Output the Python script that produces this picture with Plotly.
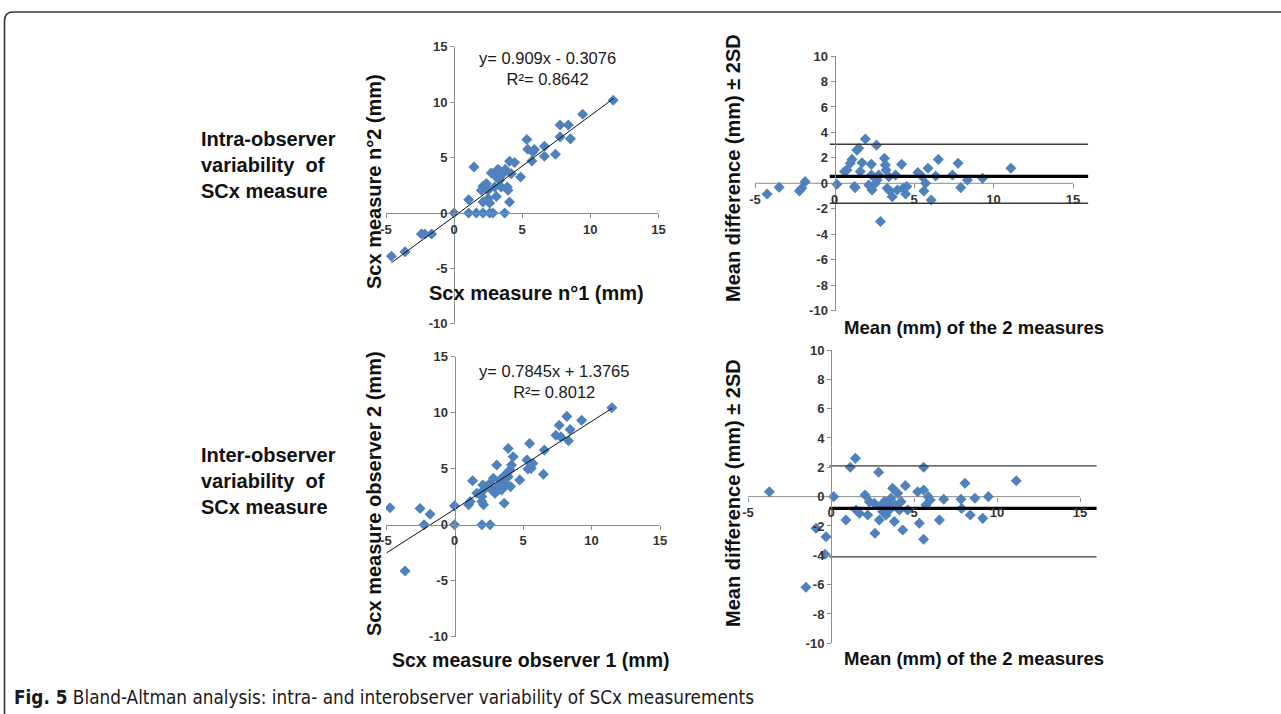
import plotly.graph_objects as go

W, H = 1281, 714

# ---------------- data ----------------
# Panel A: intra-observer, measure n°1 vs measure n°2 (mm)
intra_m1 = [-4.6, -3.6, -2.4, -2.15, -1.65, 0.0, 1.07, 1.07, 1.46, 1.63, 2.12, 2.12, 2.12, 2.49,
            2.61, 2.61, 2.85, 2.98, 3.1, 3.1, 3.22, 3.34, 3.71, 3.76, 3.9, 3.95, 4.07, 4.07, 4.2,
            4.44, 4.88, 5.34, 5.41, 5.71, 5.78, 5.9, 6.63, 6.63, 7.44, 7.78, 7.78, 8.39, 8.54,
            9.44, 11.68, 2.37, 2.73, 3.46, 3.59, 2.0, 2.5]
intra_m2 = [-3.9, -3.5, -1.9, -1.9, -1.9, 0.0, 1.2, 0.0, 4.16, 0.0, 0.0, 2.41, 1.0, 2.05,
            0.0, 0.9, 0.0, 2.35, 3.25, 1.5, 3.95, 2.95, 0.0, 3.95, 2.35, 2.05, 4.67, 1.0, 3.55,
            4.55, 3.25, 6.63, 5.75, 4.7, 5.51, 5.72, 6.02, 5.12, 5.3, 7.95, 6.87, 7.95, 6.69,
            8.92, 10.18, 2.65, 3.61, 2.35, 3.55, 2.05, 1.3]
intra_fit_slope, intra_fit_intercept = 0.909, -0.3076
intra_fit_x = [-4.6, 11.7]
intra_eq = "y= 0.909x - 0.3076<br>R²= 0.8642"

# Panel B: Bland-Altman intra-observer
ba_intra_mean = [-4.24, -3.48, -2.21, -2.06, -1.85, 0.15, 0.63, 0.78, 0.99, 1.1, 1.26, 1.3, 1.41,
                 1.52, 1.73, 1.62, 1.94, 2.15, 2.32, 2.32, 2.36, 2.57, 2.64, 2.68, 2.78, 2.89,
                 3.14, 3.2, 3.24, 3.31, 3.42, 3.48, 3.63, 3.84, 3.95, 4.22, 4.32, 4.47, 4.54,
                 5.24, 5.52, 5.62, 5.73, 5.88, 6.08, 6.36, 6.53, 7.42, 7.77, 7.94, 8.36, 9.31, 11.09]
ba_intra_diff = [-0.84, -0.31, -0.6, -0.39, 0.13, -0.08, 0.92, 1.05, 1.57, 1.88, -0.26, -0.34, 2.61,
                 2.75, 1.62, 0.92, 3.48, -0.13, 1.49, 0.65, -0.52, 0.0, 3.0, 0.26, 0.65, -3.0,
                 1.96, 1.44, 1.05, -0.39, 0.52, -0.6, -1.05, 0.65, -0.52, 1.49, -0.39, -0.84, -0.26,
                 0.84, 0.52, -0.6, 0.0, 1.18, -1.31, 0.58, 1.88, 0.65, 1.57, -0.34, 0.26, 0.39, 1.18]
ba_intra_limits = [3.07, 0.55, -1.57]   # upper, mean, lower
ba_intra_limit_x = [-0.3, 15.95]

# Panel C: inter-observer, observer 1 vs observer 2 (mm)
inter_o1 = [-4.71, -3.61, -2.51, -2.22, -1.78, 0.0, 0.0, 1.03, 1.15, 1.32, 1.63, 2.0, 2.0, 2.0,
            2.07, 2.12, 2.6, 2.36, 2.6, 2.72, 2.84, 3.08, 3.2, 3.32, 3.44, 3.56, 3.63, 3.68, 3.8,
            3.92, 3.92, 4.04, 4.09, 4.16, 4.28, 4.76, 5.29, 5.36, 5.48, 5.6, 5.72, 6.49, 6.56,
            7.4, 7.64, 7.76, 8.2, 8.32, 8.44, 9.28, 11.49, 2.12, 2.96]
inter_o2 = [1.51, -4.13, 1.45, 0.0, 0.93, 1.69, 0.0, 1.78, 2.07, 3.93, 2.81, 2.07, 2.51, 0.0,
            3.55, 1.78, 0.0, 3.4, 3.7, 3.11, 4.14, 5.33, 3.4, 4.0, 3.11, 3.85, 1.92, 4.44, 3.55,
            6.8, 4.29, 4.88, 3.4, 5.33, 6.07, 4.0, 5.77, 4.97, 7.25, 5.03, 5.47, 4.5, 6.66,
            7.99, 8.88, 7.84, 9.67, 7.49, 8.49, 9.32, 10.44, 3.1, 2.81]
inter_fit_slope, inter_fit_intercept = 0.7845, 1.3765
inter_fit_x = [-4.95, 11.5]
inter_eq = "y= 0.7845x + 1.3765<br>R²= 0.8012"

# Panel D: Bland-Altman inter-observer
ba_inter_mean = [-3.71, -0.9, -0.3, -0.36, -1.51, 0.16, 0.9, 1.16, 1.47, 1.51, 1.71, 2.05, 2.21,
                 2.31, 2.61, 2.65, 2.87, 2.91, 3.01, 3.11, 3.21, 3.31, 3.41, 3.51, 3.61, 3.71,
                 3.82, 3.86, 4.02, 4.12, 4.22, 4.32, 4.48, 4.62, 5.22, 5.32, 5.58, 5.58, 5.58,
                 5.72, 5.86, 5.98, 6.53, 6.79, 7.83, 7.87, 8.07, 8.39, 8.67, 9.14, 9.48, 11.16]
ba_inter_diff = [0.34, -2.16, -2.73, -3.93, -6.18, 0.0, -1.59, 2.0, 2.61, -0.91, -1.14, 0.11, -1.25,
                 -0.34, -0.45, -2.5, 1.66, -1.59, -0.68, -1.02, -0.34, -1.25, -0.57, -0.91, -0.11, 0.57,
                 -1.7, -0.57, 0.23, -0.91, -0.34, -2.27, 0.75, -0.91, 0.34, -1.82, 2.0, 0.45, -2.91,
                 -0.57, 0.0, -0.23, -1.59, -0.18, -0.18, -0.8, 0.91, -1.25, -0.11, -1.48, 0.0, 1.09]
ba_inter_limits = [2.1, -0.8, -4.1]
ba_inter_limit_x = [-0.1, 16.0]

scatter_xticks = [-5, 0, 5, 10, 15]
scatter_yticks = [-10, -5, 0, 5, 10, 15]
ba_xticks = [-5, 0, 5, 10, 15]
ba_yticks = [-10, -8, -6, -4, -2, 0, 2, 4, 6, 8, 10]

# ---------------- layout helpers ----------------
def px(x):
    return x / W

def py(y):
    return 1 - y / H

# pixel boxes of the four plot areas: x-range, y-range, left/right px, bottom/top px
panels = [
    dict(xr=[-5, 15], yr=[-10, 15], xp=[386, 658.4], yp=[323.8, 46.8]),
    dict(xr=[-5, 16.5], yr=[-10, 10], xp=[755, 1096.9], yp=[310.5, 56.1]),
    dict(xr=[-5, 15], yr=[-10, 15], xp=[386, 660], yp=[636.7, 356.7]),
    dict(xr=[-5, 16.5], yr=[-10, 10], xp=[748, 1104.9], yp=[643.3, 350]),
]

BLUE = "#4F81BD"
AXIS = "#8c8c8c"
TICKFONT = dict(family="Liberation Sans, Arial, sans-serif", size=13, color="#333333", weight="bold")
BOLD = "Liberation Sans, Arial, sans-serif"

fig = go.Figure()

def axref(i):
    return ("x" if i == 0 else f"x{i+1}", "y" if i == 0 else f"y{i+1}")

def add_markers(i, xs, ys):
    xa, ya = axref(i)
    fig.add_trace(go.Scatter(x=xs, y=ys, mode="markers", xaxis=xa, yaxis=ya,
                             marker=dict(symbol="diamond", size=8.5, color=BLUE,
                                         line=dict(width=0)),
                             showlegend=False, hoverinfo="x+y"))

def add_line(i, xs, ys, color, width):
    xa, ya = axref(i)
    fig.add_trace(go.Scatter(x=xs, y=ys, mode="lines", xaxis=xa, yaxis=ya,
                             line=dict(color=color, width=width),
                             showlegend=False, hoverinfo="skip"))

# Panel A
add_markers(0, intra_m1, intra_m2)
add_line(0, intra_fit_x, [intra_fit_slope * v + intra_fit_intercept for v in intra_fit_x], "#111", 1)

# Panel B
add_line(1, [ba_xticks[0], ba_xticks[-1]], [0, 0], AXIS, 1)
add_markers(1, ba_intra_mean, ba_intra_diff)
for k, v in enumerate(ba_intra_limits):
    add_line(1, ba_intra_limit_x, [v, v], "#000" if k == 1 else "#3a3a3a", 3.2 if k == 1 else 1.3)

# Panel C
add_markers(2, inter_o1, inter_o2)
add_line(2, inter_fit_x, [inter_fit_slope * v + inter_fit_intercept for v in inter_fit_x], "#111", 1)

# Panel D
add_line(3, [ba_xticks[0], ba_xticks[-1]], [0, 0], AXIS, 1)
add_markers(3, ba_inter_mean, ba_inter_diff)
for k, v in enumerate(ba_inter_limits):
    add_line(3, ba_inter_limit_x, [v, v], "#000" if k == 1 else "#3a3a3a", 3.2 if k == 1 else 1.3)

layout = dict(width=W, height=H,
              margin=dict(l=0, r=0, t=0, b=0, pad=0, autoexpand=False),
              paper_bgcolor="white", plot_bgcolor="white", showlegend=False)

for i, p in enumerate(panels):
    xr, yr, xp, yp = p["xr"], p["yr"], p["xp"], p["yp"]
    is_ba = i in (1, 3)
    xt = ba_xticks if is_ba else scatter_xticks
    yt = ba_yticks if is_ba else scatter_yticks
    zero_xpix = xp[0] + (0 - xr[0]) / (xr[1] - xr[0]) * (xp[1] - xp[0])
    zero_ypix = yp[0] + (0 - yr[0]) / (yr[1] - yr[0]) * (yp[1] - yp[0])
    suffix = "" if i == 0 else str(i + 1)
    layout["xaxis" + suffix] = dict(
        domain=[px(xp[0]), px(xp[1])], range=xr, anchor="free", position=py(zero_ypix),
        tickvals=xt, ticktext=[str(v) for v in xt], ticks="outside", ticklen=4,
        tickcolor=AXIS, showline=not is_ba, linecolor=AXIS, linewidth=1,
        showgrid=False, zeroline=False, tickfont=TICKFONT, fixedrange=True, automargin=False)
    layout["yaxis" + suffix] = dict(
        domain=[py(yp[0]), py(yp[1])], range=yr, anchor="free", position=px(zero_xpix),
        tickvals=yt, ticktext=[str(v) for v in yt], ticks="outside", ticklen=4,
        tickcolor=AXIS, showline=True, linecolor=AXIS, linewidth=1,
        showgrid=False, zeroline=False, tickfont=TICKFONT, fixedrange=True, automargin=False)

annotations = []

def ann(text, x, y, size, angle=0, bold=True, align="center", xanchor="center", color="#111", family=BOLD):
    annotations.append(dict(text=f"<b>{text}</b>" if bold else text, x=px(x), y=py(y),
                            xref="paper", yref="paper", showarrow=False, textangle=angle,
                            align=align, xanchor=xanchor, yanchor="middle",
                            font=dict(family=family, size=size, color=color)))

# axis titles
ann("Scx measure n°2 (mm)", 374, 182, 20, angle=-90)
ann("Scx measure n°1 (mm)", 536, 293, 20)
ann("Mean difference (mm) ± 2SD", 733, 168, 20, angle=-90)
ann("Mean (mm) of the 2 measures", 974, 328, 18.5)
ann("Scx measure observer 2 (mm)", 374, 494, 20, angle=-90)
ann("Scx measure observer 1 (mm)", 530, 660, 19.5)
ann("Mean difference (mm) ± 2SD", 733, 493, 20, angle=-90)
ann("Mean (mm) of the 2 measures", 974, 658, 18.5)

# regression equations
ann(intra_eq, 547, 69, 16.5, bold=False, color="#1a1a1a")
ann(inter_eq, 554, 381, 16.5, bold=False, color="#1a1a1a")

# row labels
ann("Intra-observer<br>variability\u00a0 of<br>SCx measure", 199, 165, 20, align="left", xanchor="left")
ann("Inter-observer<br>variability\u00a0 of<br>SCx measure", 199, 481, 20, align="left", xanchor="left")

# caption
annotations.append(dict(text="<b>Fig. 5</b> Bland-Altman analysis: intra- and interobserver variability of SCx measurements",
                        x=px(12), y=py(697), xref="paper", yref="paper", showarrow=False,
                        xanchor="left", yanchor="middle",
                        font=dict(family="DejaVu Sans Condensed, Open Sans, sans-serif", size=18.8, color="#1a1a1a")))

layout["annotations"] = annotations

# figure frame (rounded top-left corner)
layout["shapes"] = [dict(type="path", xref="paper", yref="paper",
                         path=f"M {px(4.5)},{py(716)} L {px(4.5)},{py(21)} Q {px(4.5)},{py(12)} {px(13)},{py(12)} L {px(1285)},{py(12)}",
                         line=dict(color="#333", width=1.6))]

fig.update_layout(**layout)
fig.write_html("out.html", config={"displayModeBar": False},
               post_script="document.body.style.margin='0px';")
